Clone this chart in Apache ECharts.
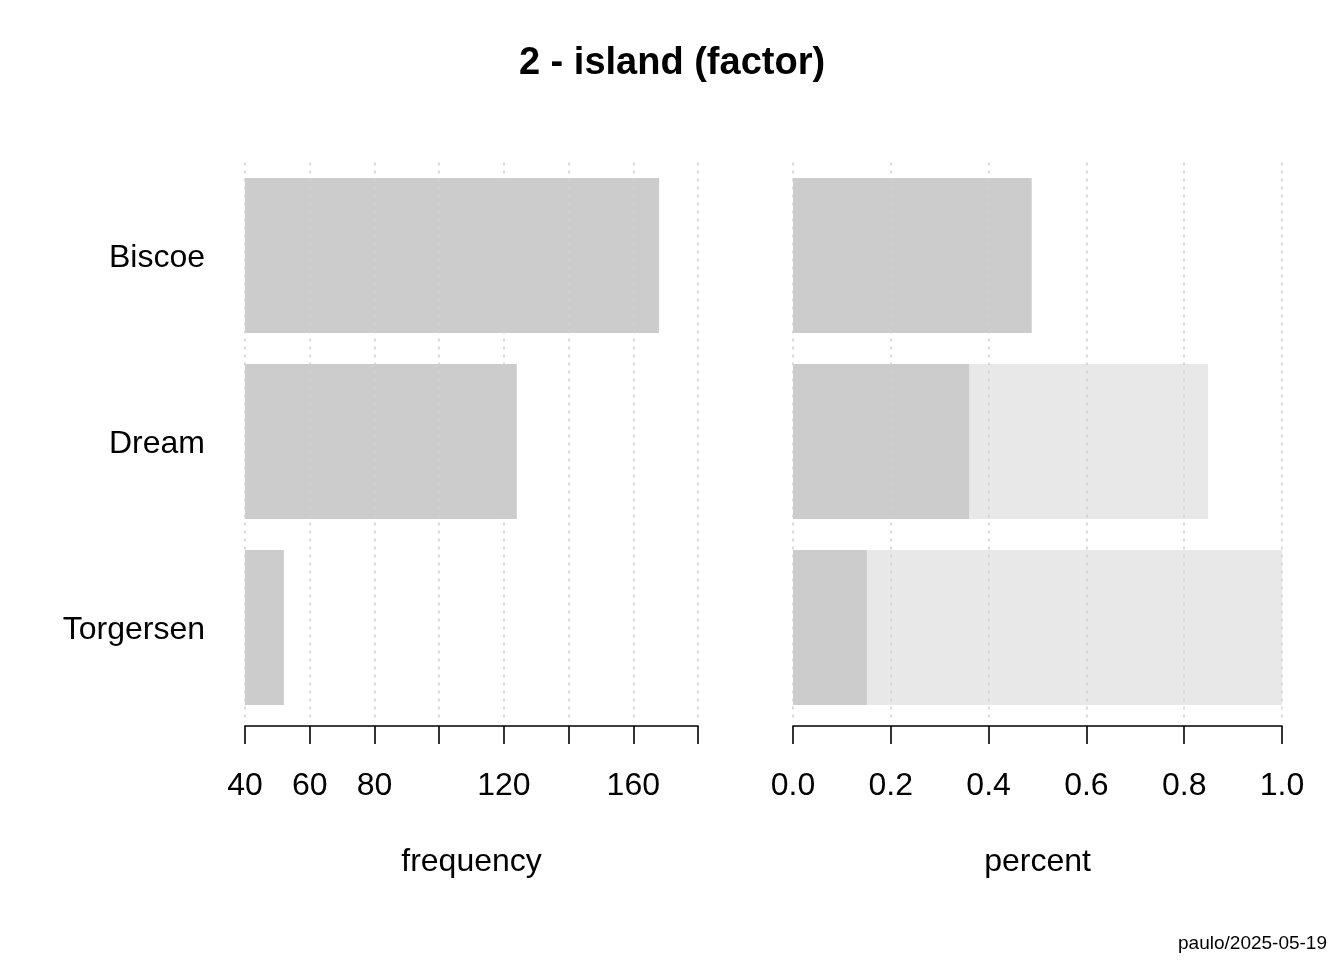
<!DOCTYPE html>
<html>
<head>
<meta charset="utf-8">
<script src="https://cdn.jsdelivr.net/npm/echarts@6/dist/echarts.min.js"></script>
<style>
html,body{margin:0;padding:0;background:#fff;}
#chart{width:1344px;height:960px;}
</style>
</head>
<body>
<div id="chart"></div>
<script>
const islands = ['Biscoe', 'Dream', 'Torgersen'];
const frequency = [168, 124, 52];
const percent = [0.488, 0.360, 0.151];
const cumulative = [0.488, 0.849, 1.0];
const freqTicksShown = [40, 60, 80, 120, 160];

const FONT = 'Liberation Sans, Arial, Helvetica, sans-serif';
const chart = echarts.init(document.getElementById('chart'), null, {renderer: 'canvas'});

const gridLineStyle = {color: '#CFCFCF', type: [3, 5], width: 1.5};
const axisLineStyle = {color: '#000', width: 1.6};

chart.setOption({
  backgroundColor: '#fff',
  animation: false,
  title: {
    text: '2 - island (factor)',
    left: 'center',
    top: 40,
    textStyle: {fontFamily: FONT, fontSize: 38, fontWeight: 'bold', color: '#000'}
  },
  graphic: [{
    type: 'text',
    right: 17,
    top: 934,
    style: {text: 'paulo/2025-05-19', font: '19px ' + FONT, fill: '#000'}
  }],
  grid: [
    {left: 245, width: 453, top: 162.5, height: 558},
    {left: 793, width: 489, top: 162.5, height: 558}
  ],
  xAxis: [
    {
      gridIndex: 0, type: 'value', min: 40, max: 180, interval: 20,
      z: 10, offset: 5.5,
      name: 'frequency', nameLocation: 'middle', nameGap: 120,
      nameTextStyle: {fontFamily: FONT, fontSize: 32, color: '#000'},
      axisLine: {show: true, lineStyle: axisLineStyle},
      axisTick: {show: true, length: 18, lineStyle: axisLineStyle},
      axisLabel: {
        fontFamily: FONT, fontSize: 32, color: '#000', margin: 44,
        formatter: v => freqTicksShown.includes(v) ? String(v) : ''
      },
      splitLine: {show: true, lineStyle: gridLineStyle}
    },
    {
      gridIndex: 1, type: 'value', min: 0, max: 1, interval: 0.2,
      z: 10, offset: 5.5,
      name: 'percent', nameLocation: 'middle', nameGap: 120,
      nameTextStyle: {fontFamily: FONT, fontSize: 32, color: '#000'},
      axisLine: {show: true, lineStyle: axisLineStyle},
      axisTick: {show: true, length: 18, lineStyle: axisLineStyle},
      axisLabel: {
        fontFamily: FONT, fontSize: 32, color: '#000', margin: 44,
        formatter: v => v.toFixed(1)
      },
      splitLine: {show: true, lineStyle: gridLineStyle}
    }
  ],
  yAxis: [
    {
      gridIndex: 0, type: 'category', data: islands, inverse: true,
      axisLine: {show: false}, axisTick: {show: false},
      axisLabel: {
        color: '#000', margin: 40,
        formatter: v => '{c|' + v + '}',
        rich: {c: {fontFamily: FONT, fontSize: 32, color: '#000', padding: [6, 0, 0, 0]}}
      }
    },
    {
      gridIndex: 1, type: 'category', data: islands, inverse: true,
      axisLine: {show: false}, axisTick: {show: false},
      axisLabel: {show: false}
    }
  ],
  series: [
    {
      type: 'bar', xAxisIndex: 0, yAxisIndex: 0, data: frequency,
      barCategoryGap: '16.7%', clip: true,
      itemStyle: {color: '#CCCCCC'}
    },
    {
      type: 'bar', xAxisIndex: 1, yAxisIndex: 1, data: cumulative,
      barCategoryGap: '16.7%', barGap: '-100%',
      itemStyle: {color: '#E8E8E8'}
    },
    {
      type: 'bar', xAxisIndex: 1, yAxisIndex: 1, data: percent,
      barCategoryGap: '16.7%', barGap: '-100%',
      itemStyle: {color: '#CCCCCC'}
    }
  ]
});
</script>
</body>
</html>
